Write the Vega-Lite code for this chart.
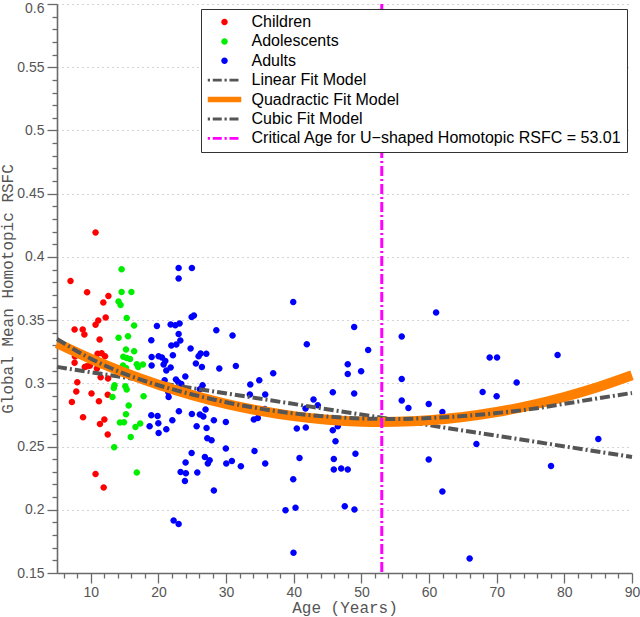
{
  "$schema": "https://vega.github.io/schema/vega-lite/v6.json",
  "width": 575,
  "height": 569,
  "autosize": {"type": "none"},
  "padding": {"left": 57, "top": 4, "right": 8, "bottom": 44},
  "background": "white",
  "config": {
    "view": {"stroke": null},
    "axis": {
      "labelFont": "Liberation Sans",
      "labelFontSize": 14,
      "labelColor": "#555555",
      "titleFont": "Liberation Mono",
      "titleFontSize": 16,
      "titleFontWeight": "normal",
      "titleColor": "#555555",
      "domainColor": "#6a6a6a",
      "domainWidth": 1.6,
      "tickColor": "#6a6a6a",
      "tickWidth": 1.3
    },
    "legend": {
      "orient": "top-right",
      "offset": 5,
      "padding": 5,
      "strokeColor": "#333333",
      "fillColor": "white",
      "labelFont": "Liberation Sans",
      "labelFontSize": 16,
      "labelColor": "black",
      "labelLimit": 600,
      "labelOffset": 19,
      "symbolOffset": 10.5,
      "rowPadding": 3.4,
      "symbolSize": 100,
      "symbolStrokeWidth": 0,
      "symbolOpacity": 1
    }
  },
  "datasets": {
    "points": [
      {"age": 7.0, "rsfc": 0.381, "group": "Children"},
      {"age": 9.45, "rsfc": 0.372, "group": "Children"},
      {"age": 12.6, "rsfc": 0.369, "group": "Children"},
      {"age": 11.85, "rsfc": 0.364, "group": "Children"},
      {"age": 12.2, "rsfc": 0.352, "group": "Children"},
      {"age": 11.1, "rsfc": 0.3497, "group": "Children"},
      {"age": 10.7, "rsfc": 0.3463, "group": "Children"},
      {"age": 7.6, "rsfc": 0.3426, "group": "Children"},
      {"age": 8.8, "rsfc": 0.3426, "group": "Children"},
      {"age": 9.05, "rsfc": 0.3386, "group": "Children"},
      {"age": 11.3, "rsfc": 0.3347, "group": "Children"},
      {"age": 7.65, "rsfc": 0.3212, "group": "Children"},
      {"age": 11.0, "rsfc": 0.3233, "group": "Children"},
      {"age": 11.6, "rsfc": 0.3238, "group": "Children"},
      {"age": 12.1, "rsfc": 0.3215, "group": "Children"},
      {"age": 7.6, "rsfc": 0.3163, "group": "Children"},
      {"age": 9.4, "rsfc": 0.3135, "group": "Children"},
      {"age": 9.1, "rsfc": 0.313, "group": "Children"},
      {"age": 9.85, "rsfc": 0.314, "group": "Children"},
      {"age": 10.9, "rsfc": 0.3118, "group": "Children"},
      {"age": 11.45, "rsfc": 0.3049, "group": "Children"},
      {"age": 12.55, "rsfc": 0.3039, "group": "Children"},
      {"age": 8.0, "rsfc": 0.3009, "group": "Children"},
      {"age": 7.85, "rsfc": 0.2936, "group": "Children"},
      {"age": 10.1, "rsfc": 0.2919, "group": "Children"},
      {"age": 12.5, "rsfc": 0.291, "group": "Children"},
      {"age": 7.2, "rsfc": 0.2853, "group": "Children"},
      {"age": 11.2, "rsfc": 0.2858, "group": "Children"},
      {"age": 8.85, "rsfc": 0.2731, "group": "Children"},
      {"age": 12.0, "rsfc": 0.2714, "group": "Children"},
      {"age": 11.35, "rsfc": 0.2678, "group": "Children"},
      {"age": 12.5, "rsfc": 0.2595, "group": "Children"},
      {"age": 10.7, "rsfc": 0.2283, "group": "Children"},
      {"age": 11.9, "rsfc": 0.2176, "group": "Children"},
      {"age": 10.7, "rsfc": 0.4193, "group": "Children"},
      {"age": 14.55, "rsfc": 0.3903, "group": "Adolescents"},
      {"age": 14.55, "rsfc": 0.3723, "group": "Adolescents"},
      {"age": 16.0, "rsfc": 0.3723, "group": "Adolescents"},
      {"age": 14.1, "rsfc": 0.3648, "group": "Adolescents"},
      {"age": 14.4, "rsfc": 0.362, "group": "Adolescents"},
      {"age": 15.3, "rsfc": 0.3517, "group": "Adolescents"},
      {"age": 16.4, "rsfc": 0.3457, "group": "Adolescents"},
      {"age": 14.1, "rsfc": 0.336, "group": "Adolescents"},
      {"age": 15.5, "rsfc": 0.3373, "group": "Adolescents"},
      {"age": 15.2, "rsfc": 0.3267, "group": "Adolescents"},
      {"age": 16.4, "rsfc": 0.3254, "group": "Adolescents"},
      {"age": 14.8, "rsfc": 0.321, "group": "Adolescents"},
      {"age": 15.3, "rsfc": 0.3201, "group": "Adolescents"},
      {"age": 15.8, "rsfc": 0.3193, "group": "Adolescents"},
      {"age": 14.75, "rsfc": 0.3141, "group": "Adolescents"},
      {"age": 15.2, "rsfc": 0.3122, "group": "Adolescents"},
      {"age": 16.8, "rsfc": 0.3151, "group": "Adolescents"},
      {"age": 17.7, "rsfc": 0.3149, "group": "Adolescents"},
      {"age": 17.0, "rsfc": 0.313, "group": "Adolescents"},
      {"age": 13.5, "rsfc": 0.2985, "group": "Adolescents"},
      {"age": 13.4, "rsfc": 0.2964, "group": "Adolescents"},
      {"age": 15.1, "rsfc": 0.2977, "group": "Adolescents"},
      {"age": 15.3, "rsfc": 0.2951, "group": "Adolescents"},
      {"age": 13.2, "rsfc": 0.2892, "group": "Adolescents"},
      {"age": 17.8, "rsfc": 0.2898, "group": "Adolescents"},
      {"age": 15.6, "rsfc": 0.2824, "group": "Adolescents"},
      {"age": 15.2, "rsfc": 0.2756, "group": "Adolescents"},
      {"age": 14.3, "rsfc": 0.269, "group": "Adolescents"},
      {"age": 14.9, "rsfc": 0.2692, "group": "Adolescents"},
      {"age": 16.6, "rsfc": 0.2655, "group": "Adolescents"},
      {"age": 17.3, "rsfc": 0.2682, "group": "Adolescents"},
      {"age": 15.9, "rsfc": 0.2576, "group": "Adolescents"},
      {"age": 13.45, "rsfc": 0.2494, "group": "Adolescents"},
      {"age": 16.8, "rsfc": 0.2294, "group": "Adolescents"},
      {"age": 22.98, "rsfc": 0.3913, "group": "Adults"},
      {"age": 24.94, "rsfc": 0.3913, "group": "Adults"},
      {"age": 22.98, "rsfc": 0.3829, "group": "Adults"},
      {"age": 39.92, "rsfc": 0.3644, "group": "Adults"},
      {"age": 24.9, "rsfc": 0.3525, "group": "Adults"},
      {"age": 25.24, "rsfc": 0.3536, "group": "Adults"},
      {"age": 19.77, "rsfc": 0.3454, "group": "Adults"},
      {"age": 21.8, "rsfc": 0.3465, "group": "Adults"},
      {"age": 22.49, "rsfc": 0.346, "group": "Adults"},
      {"age": 23.12, "rsfc": 0.3473, "group": "Adults"},
      {"age": 22.98, "rsfc": 0.3391, "group": "Adults"},
      {"age": 23.23, "rsfc": 0.3339, "group": "Adults"},
      {"age": 18.94, "rsfc": 0.3341, "group": "Adults"},
      {"age": 28.55, "rsfc": 0.342, "group": "Adults"},
      {"age": 30.95, "rsfc": 0.3378, "group": "Adults"},
      {"age": 31.44, "rsfc": 0.3138, "group": "Adults"},
      {"age": 21.9, "rsfc": 0.3299, "group": "Adults"},
      {"age": 22.64, "rsfc": 0.3307, "group": "Adults"},
      {"age": 24.75, "rsfc": 0.3275, "group": "Adults"},
      {"age": 26.23, "rsfc": 0.3236, "group": "Adults"},
      {"age": 27.07, "rsfc": 0.3233, "group": "Adults"},
      {"age": 25.93, "rsfc": 0.3214, "group": "Adults"},
      {"age": 18.99, "rsfc": 0.3209, "group": "Adults"},
      {"age": 20.02, "rsfc": 0.3214, "group": "Adults"},
      {"age": 20.51, "rsfc": 0.3204, "group": "Adults"},
      {"age": 21.01, "rsfc": 0.3177, "group": "Adults"},
      {"age": 20.76, "rsfc": 0.3149, "group": "Adults"},
      {"age": 21.8, "rsfc": 0.3125, "group": "Adults"},
      {"age": 21.16, "rsfc": 0.3101, "group": "Adults"},
      {"age": 18.99, "rsfc": 0.3141, "group": "Adults"},
      {"age": 25.53, "rsfc": 0.3157, "group": "Adults"},
      {"age": 26.42, "rsfc": 0.313, "group": "Adults"},
      {"age": 28.99, "rsfc": 0.3117, "group": "Adults"},
      {"age": 36.96, "rsfc": 0.308, "group": "Adults"},
      {"age": 20.91, "rsfc": 0.3025, "group": "Adults"},
      {"age": 22.58, "rsfc": 0.303, "group": "Adults"},
      {"age": 22.93, "rsfc": 0.3009, "group": "Adults"},
      {"age": 23.38, "rsfc": 0.2995, "group": "Adults"},
      {"age": 23.97, "rsfc": 0.3054, "group": "Adults"},
      {"age": 21.01, "rsfc": 0.2975, "group": "Adults"},
      {"age": 21.46, "rsfc": 0.293, "group": "Adults"},
      {"age": 21.5, "rsfc": 0.2892, "group": "Adults"},
      {"age": 26.52, "rsfc": 0.2985, "group": "Adults"},
      {"age": 26.12, "rsfc": 0.2953, "group": "Adults"},
      {"age": 33.57, "rsfc": 0.2991, "group": "Adults"},
      {"age": 34.9, "rsfc": 0.3025, "group": "Adults"},
      {"age": 33.51, "rsfc": 0.2911, "group": "Adults"},
      {"age": 35.78, "rsfc": 0.2911, "group": "Adults"},
      {"age": 18.94, "rsfc": 0.2748, "group": "Adults"},
      {"age": 19.87, "rsfc": 0.2742, "group": "Adults"},
      {"age": 18.69, "rsfc": 0.2661, "group": "Adults"},
      {"age": 19.98, "rsfc": 0.2684, "group": "Adults"},
      {"age": 21.16, "rsfc": 0.2637, "group": "Adults"},
      {"age": 20.02, "rsfc": 0.2608, "group": "Adults"},
      {"age": 22.05, "rsfc": 0.2708, "group": "Adults"},
      {"age": 23.02, "rsfc": 0.2779, "group": "Adults"},
      {"age": 24.94, "rsfc": 0.2758, "group": "Adults"},
      {"age": 26.12, "rsfc": 0.2753, "group": "Adults"},
      {"age": 26.63, "rsfc": 0.2737, "group": "Adults"},
      {"age": 26.96, "rsfc": 0.2793, "group": "Adults"},
      {"age": 27.41, "rsfc": 0.2861, "group": "Adults"},
      {"age": 28.19, "rsfc": 0.2708, "group": "Adults"},
      {"age": 25.64, "rsfc": 0.2661, "group": "Adults"},
      {"age": 27.11, "rsfc": 0.2647, "group": "Adults"},
      {"age": 29.96, "rsfc": 0.2695, "group": "Adults"},
      {"age": 27.22, "rsfc": 0.2566, "group": "Adults"},
      {"age": 27.85, "rsfc": 0.255, "group": "Adults"},
      {"age": 29.96, "rsfc": 0.2484, "group": "Adults"},
      {"age": 34.2, "rsfc": 0.2465, "group": "Adults"},
      {"age": 35.72, "rsfc": 0.2797, "group": "Adults"},
      {"age": 35.34, "rsfc": 0.2779, "group": "Adults"},
      {"age": 34.69, "rsfc": 0.2726, "group": "Adults"},
      {"age": 34.1, "rsfc": 0.2714, "group": "Adults"},
      {"age": 41.74, "rsfc": 0.2801, "group": "Adults"},
      {"age": 41.78, "rsfc": 0.265, "group": "Adults"},
      {"age": 40.45, "rsfc": 0.2642, "group": "Adults"},
      {"age": 42.92, "rsfc": 0.2872, "group": "Adults"},
      {"age": 43.55, "rsfc": 0.2827, "group": "Adults"},
      {"age": 24.9, "rsfc": 0.2449, "group": "Adults"},
      {"age": 26.86, "rsfc": 0.2418, "group": "Adults"},
      {"age": 27.56, "rsfc": 0.2392, "group": "Adults"},
      {"age": 27.3, "rsfc": 0.2366, "group": "Adults"},
      {"age": 30.02, "rsfc": 0.2366, "group": "Adults"},
      {"age": 30.85, "rsfc": 0.2386, "group": "Adults"},
      {"age": 32.18, "rsfc": 0.2344, "group": "Adults"},
      {"age": 35.78, "rsfc": 0.2366, "group": "Adults"},
      {"age": 24.01, "rsfc": 0.2373, "group": "Adults"},
      {"age": 23.27, "rsfc": 0.2299, "group": "Adults"},
      {"age": 24.05, "rsfc": 0.2289, "group": "Adults"},
      {"age": 23.91, "rsfc": 0.2228, "group": "Adults"},
      {"age": 25.74, "rsfc": 0.2294, "group": "Adults"},
      {"age": 28.19, "rsfc": 0.2152, "group": "Adults"},
      {"age": 39.92, "rsfc": 0.2241, "group": "Adults"},
      {"age": 40.85, "rsfc": 0.241, "group": "Adults"},
      {"age": 40.26, "rsfc": 0.2017, "group": "Adults"},
      {"age": 38.78, "rsfc": 0.1996, "group": "Adults"},
      {"age": 39.96, "rsfc": 0.1661, "group": "Adults"},
      {"age": 22.24, "rsfc": 0.1915, "group": "Adults"},
      {"age": 22.98, "rsfc": 0.1888, "group": "Adults"},
      {"age": 41.93, "rsfc": 0.3309, "group": "Adults"},
      {"age": 22.13, "rsfc": 0.3222, "group": "Adults"},
      {"age": 61.04, "rsfc": 0.356, "group": "Adults"},
      {"age": 48.93, "rsfc": 0.3446, "group": "Adults"},
      {"age": 55.96, "rsfc": 0.337, "group": "Adults"},
      {"age": 51.0, "rsfc": 0.3264, "group": "Adults"},
      {"age": 47.98, "rsfc": 0.3151, "group": "Adults"},
      {"age": 47.98, "rsfc": 0.3074, "group": "Adults"},
      {"age": 49.96, "rsfc": 0.3096, "group": "Adults"},
      {"age": 55.96, "rsfc": 0.3035, "group": "Adults"},
      {"age": 68.96, "rsfc": 0.3204, "group": "Adults"},
      {"age": 70.05, "rsfc": 0.3204, "group": "Adults"},
      {"age": 79.0, "rsfc": 0.3225, "group": "Adults"},
      {"age": 72.95, "rsfc": 0.3006, "group": "Adults"},
      {"age": 45.77, "rsfc": 0.293, "group": "Adults"},
      {"age": 48.93, "rsfc": 0.2919, "group": "Adults"},
      {"age": 67.92, "rsfc": 0.2932, "group": "Adults"},
      {"age": 69.99, "rsfc": 0.2898, "group": "Adults"},
      {"age": 55.96, "rsfc": 0.2864, "group": "Adults"},
      {"age": 56.95, "rsfc": 0.2805, "group": "Adults"},
      {"age": 59.95, "rsfc": 0.2837, "group": "Adults"},
      {"age": 61.97, "rsfc": 0.2774, "group": "Adults"},
      {"age": 70.05, "rsfc": 0.2774, "group": "Adults"},
      {"age": 46.51, "rsfc": 0.2661, "group": "Adults"},
      {"age": 45.77, "rsfc": 0.2629, "group": "Adults"},
      {"age": 46.17, "rsfc": 0.2542, "group": "Adults"},
      {"age": 49.12, "rsfc": 0.2444, "group": "Adults"},
      {"age": 45.92, "rsfc": 0.2402, "group": "Adults"},
      {"age": 45.92, "rsfc": 0.2318, "group": "Adults"},
      {"age": 47.01, "rsfc": 0.2326, "group": "Adults"},
      {"age": 47.98, "rsfc": 0.2318, "group": "Adults"},
      {"age": 67.0, "rsfc": 0.2521, "group": "Adults"},
      {"age": 59.95, "rsfc": 0.2397, "group": "Adults"},
      {"age": 78.03, "rsfc": 0.2347, "group": "Adults"},
      {"age": 85.02, "rsfc": 0.256, "group": "Adults"},
      {"age": 61.97, "rsfc": 0.2144, "group": "Adults"},
      {"age": 47.54, "rsfc": 0.2028, "group": "Adults"},
      {"age": 48.97, "rsfc": 0.2002, "group": "Adults"},
      {"age": 66.0, "rsfc": 0.1614, "group": "Adults"}
    ],
    "linear": [
      {"age": 5, "value": 0.313},
      {"age": 90, "value": 0.2418}
    ],
    "quadratic": [
      {"age": 5, "value": 0.3317},
      {"age": 10, "value": 0.3194},
      {"age": 15, "value": 0.3085},
      {"age": 20, "value": 0.2989},
      {"age": 25, "value": 0.2907},
      {"age": 30, "value": 0.2838},
      {"age": 35, "value": 0.2783},
      {"age": 40, "value": 0.2741},
      {"age": 45, "value": 0.2712},
      {"age": 50, "value": 0.2697},
      {"age": 53.01, "value": 0.2695},
      {"age": 55, "value": 0.2696},
      {"age": 60, "value": 0.2708},
      {"age": 65, "value": 0.2734},
      {"age": 70, "value": 0.2773},
      {"age": 75, "value": 0.2826},
      {"age": 80, "value": 0.2892},
      {"age": 85, "value": 0.2971},
      {"age": 90, "value": 0.3064}
    ],
    "cubic": [
      {"age": 5, "value": 0.335},
      {"age": 10, "value": 0.3195},
      {"age": 15, "value": 0.3075},
      {"age": 20, "value": 0.2985},
      {"age": 25, "value": 0.2912},
      {"age": 30, "value": 0.285},
      {"age": 35, "value": 0.28},
      {"age": 40, "value": 0.2762},
      {"age": 45, "value": 0.2737},
      {"age": 50, "value": 0.2722},
      {"age": 55, "value": 0.2718},
      {"age": 60, "value": 0.2725},
      {"age": 65, "value": 0.2741},
      {"age": 70, "value": 0.2765},
      {"age": 75, "value": 0.2796},
      {"age": 80, "value": 0.2838},
      {"age": 85, "value": 0.2882},
      {"age": 90, "value": 0.2924}
    ],
    "critical": [
      {"age": 53.01}
    ]
  },
  "layer": [
    {
      "data": {"name": "points"},
      "mark": {"type": "point", "filled": true, "size": 100, "opacity": 1, "strokeWidth": 0},
      "encoding": {
        "x": {
          "field": "age",
          "type": "quantitative",
          "scale": {"domain": [5, 90], "nice": false, "zero": false},
          "axis": {
            "title": "Age (Years)",
            "values": [6, 8, 10, 12, 14, 16, 18, 20, 22, 24, 26, 28, 30, 32, 34, 36, 38, 40, 42, 44, 46, 48, 50, 52, 54, 56, 58, 60, 62, 64, 66, 68, 70, 72, 74, 76, 78, 80, 82, 84, 86, 88, 90],
            "tickCount": 500,
            "labelExpr": "datum.value % 10 == 0 ? format(datum.value, 'd') : ''",
            "tickSize": {"condition": {"test": "datum.value % 10 == 0", "value": 10}, "value": 5},
            "labelPadding": 2,
            "titlePadding": 0,
            "grid": false,
            "labelFlush": false,
            "labelOverlap": false
          }
        },
        "y": {
          "field": "rsfc",
          "type": "quantitative",
          "scale": {"domain": [0.15, 0.6], "nice": false, "zero": false},
          "axis": {
            "title": "Global Mean Homotopic RSFC",
            "values": [0.15, 0.16, 0.17, 0.18, 0.19, 0.2, 0.21, 0.22, 0.23, 0.24, 0.25, 0.26, 0.27, 0.28, 0.29, 0.3, 0.31, 0.32, 0.33, 0.34, 0.35, 0.36, 0.37, 0.38, 0.39, 0.4, 0.41, 0.42, 0.43, 0.44, 0.45, 0.46, 0.47, 0.48, 0.49, 0.5, 0.51, 0.52, 0.53, 0.54, 0.55, 0.56, 0.57, 0.58, 0.59, 0.6],
            "tickCount": 500,
            "labelExpr": "round(datum.value * 100) % 5 == 0 ? format(datum.value, '~g') : ''",
            "labelOffset": {"condition": {"test": "datum.value >= 0.595", "value": 4}, "value": 0},
            "tickSize": {"condition": {"test": "round(datum.value * 100) % 5 == 0", "value": 10}, "value": 5},
            "labelPadding": 3,
            "titlePadding": 1,
            "grid": true,
            "gridColor": "#a8a8a8",
            "gridDash": [1, 4],
            "gridWidth": 1,
            "gridOpacity": {"condition": {"test": "round(datum.value * 100) % 5 == 0", "value": 1}, "value": 0},
            "labelFlush": false,
            "labelOverlap": false
          }
        },
        "color": {
          "field": "group",
          "type": "nominal",
          "scale": {
            "domain": ["Children", "Adolescents", "Adults", "Linear Fit Model", "Quadractic Fit Model", "Cubic Fit Model", "Critical Age for U−shaped Homotopic RSFC = 53.01"],
            "range": ["#ff0000", "#00ee00", "#0000ff", "#555555", "#ff8000", "#555555", "#ff00ff"]
          },
          "legend": {"title": null}
        },
        "shape": {
          "field": "group",
          "type": "nominal",
          "scale": {
            "domain": ["Children", "Adolescents", "Adults", "Linear Fit Model", "Quadractic Fit Model", "Cubic Fit Model", "Critical Age for U−shaped Homotopic RSFC = 53.01"],
            "range": [
              "M-0.65,0A0.65,0.65,0,1,0,0.65,0A0.65,0.65,0,1,0,-0.65,0Z",
              "M-0.65,0A0.65,0.65,0,1,0,0.65,0A0.65,0.65,0,1,0,-0.65,0Z",
              "M-0.65,0A0.65,0.65,0,1,0,0.65,0A0.65,0.65,0,1,0,-0.65,0Z",
              "M-3.35,-0.28H-2.9V0.28H-3.35Z M-2.35,-0.28H-0.55V0.28H-2.35Z M0,-0.28H0.45V0.28H0Z M1,-0.28H2.8V0.28H1Z",
              "M-3.35,-0.55H3.35V0.55H-3.35Z",
              "M-3.35,-0.28H-2.9V0.28H-3.35Z M-2.35,-0.28H-0.55V0.28H-2.35Z M0,-0.28H0.45V0.28H0Z M1,-0.28H2.8V0.28H1Z",
              "M-3.35,-0.28H-2.9V0.28H-3.35Z M-2.35,-0.28H-0.55V0.28H-2.35Z M0,-0.28H0.45V0.28H0Z M1,-0.28H2.8V0.28H1Z"
            ]
          },
          "legend": {"title": null}
        }
      }
    },
    {
      "data": {"name": "linear"},
      "mark": {"type": "line", "color": "#555555", "strokeWidth": 4, "strokeDash": [10, 3, 2, 3]},
      "encoding": {
        "x": {"field": "age", "type": "quantitative"},
        "y": {"field": "value", "type": "quantitative"}
      }
    },
    {
      "data": {"name": "quadratic"},
      "mark": {"type": "line", "color": "#ff8000", "strokeWidth": 10, "interpolate": "monotone"},
      "encoding": {
        "x": {"field": "age", "type": "quantitative"},
        "y": {"field": "value", "type": "quantitative"}
      }
    },
    {
      "data": {"name": "cubic"},
      "mark": {"type": "line", "color": "#555555", "strokeWidth": 4, "strokeDash": [10, 3, 2, 3], "interpolate": "monotone"},
      "encoding": {
        "x": {"field": "age", "type": "quantitative"},
        "y": {"field": "value", "type": "quantitative"}
      }
    },
    {
      "data": {"name": "critical"},
      "mark": {"type": "rule", "color": "#ff00ff", "strokeWidth": 3, "strokeDash": [10, 3, 2, 3]},
      "encoding": {
        "x": {"field": "age", "type": "quantitative"}
      }
    }
  ]
}
